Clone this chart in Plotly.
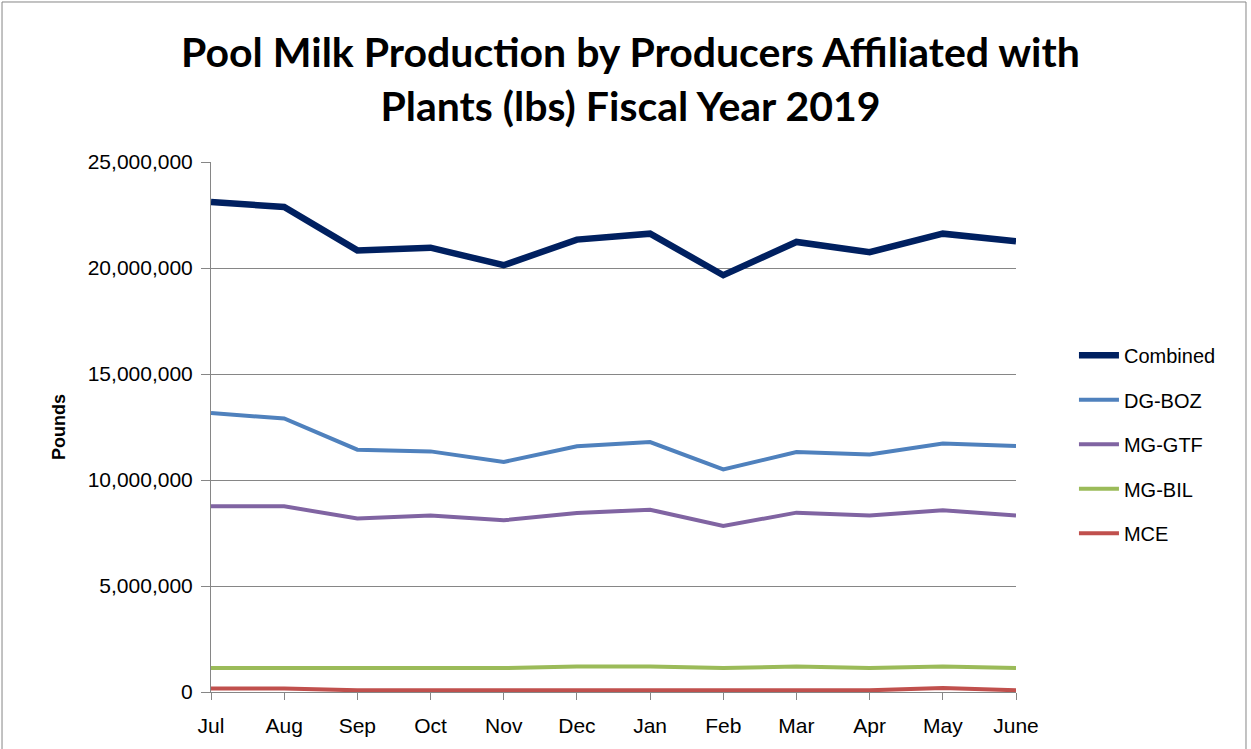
import plotly.graph_objects as go

months = ["Jul", "Aug", "Sep", "Oct", "Nov", "Dec", "Jan", "Feb", "Mar", "Apr", "May", "June"]
combined = [23110000, 22880000, 20830000, 20960000, 20130000, 21340000, 21620000, 19660000, 21230000, 20750000, 21620000, 21260000]
dg_boz = [13160000, 12900000, 11430000, 11350000, 10850000, 11590000, 11790000, 10500000, 11320000, 11200000, 11720000, 11600000]
mg_gtf = [8760000, 8760000, 8180000, 8320000, 8100000, 8440000, 8600000, 7830000, 8460000, 8330000, 8570000, 8320000]
mg_bil = [1130000, 1130000, 1130000, 1130000, 1130000, 1200000, 1200000, 1130000, 1200000, 1130000, 1200000, 1130000]
mce = [160000, 160000, 80000, 80000, 80000, 80000, 80000, 80000, 80000, 80000, 190000, 80000]
y_ticks = [0, 5000000, 10000000, 15000000, 20000000, 25000000]

series = [
    ("Combined", combined, "#002060", 6.5),
    ("DG-BOZ", dg_boz, "#4F81BD", 4),
    ("MG-GTF", mg_gtf, "#8064A2", 4),
    ("MG-BIL", mg_bil, "#9BBB59", 4),
    ("MCE", mce, "#C0504D", 4),
]

fig = go.Figure()
xs = list(range(len(months)))
for name, vals, color, w in series:
    fig.add_trace(go.Scatter(x=xs, y=vals, mode="lines", name=name, legendgroup=name,
                             line=dict(color=color, width=w)))

grid = "#868686"
fig.update_layout(
    width=1251, height=749,
    margin=dict(l=211, r=235, t=162, b=57),
    paper_bgcolor="white", plot_bgcolor="white",
    font=dict(family="Liberation Sans, Arial, sans-serif", color="black"),
    title=dict(text="<b>Pool Milk Production by Producers Affiliated with<br>Plants (lbs) Fiscal Year 2019</b>",
               x=0.504, xanchor="center", y=0.91, yanchor="middle",
               font=dict(family="Lato, sans-serif", size=41, color="black")),
    legend=dict(x=1.072, y=0.672, xanchor="left", yanchor="top",
                font=dict(size=20, family="Liberation Sans, Arial"),
                tracegroupgap=15.5, itemwidth=40, bgcolor="rgba(0,0,0,0)"),
    showlegend=True,
)
fig.update_xaxes(
    range=[0, 11], tickmode="array", tickvals=xs, ticktext=months,
    showgrid=False, showline=True, linecolor=grid, linewidth=1,
    ticks="outside", ticklen=7, tickcolor=grid, ticklabelstandoff=8,
    tickfont=dict(size=21), zeroline=False,
)
fig.update_yaxes(
    range=[0, 25000000], tickmode="array", tickvals=y_ticks,
    ticktext=[f"{v:,}" for v in y_ticks],
    showgrid=True, gridcolor=grid, gridwidth=1,
    showline=True, linecolor=grid, linewidth=1,
    ticks="outside", ticklen=9, tickcolor=grid, ticklabelstandoff=4,
    tickfont=dict(size=21), zeroline=False,
    title=dict(text="<b>Pounds</b>", font=dict(size=18), standoff=17),
)
fig.add_shape(type="rect", xref="paper", yref="paper",
              x0=-0.2596, x1=1.2857, y0=-0.2, y1=1.3019,
              line=dict(color=grid, width=1), fillcolor="rgba(0,0,0,0)", layer="below")

fig.write_html("out.html")
